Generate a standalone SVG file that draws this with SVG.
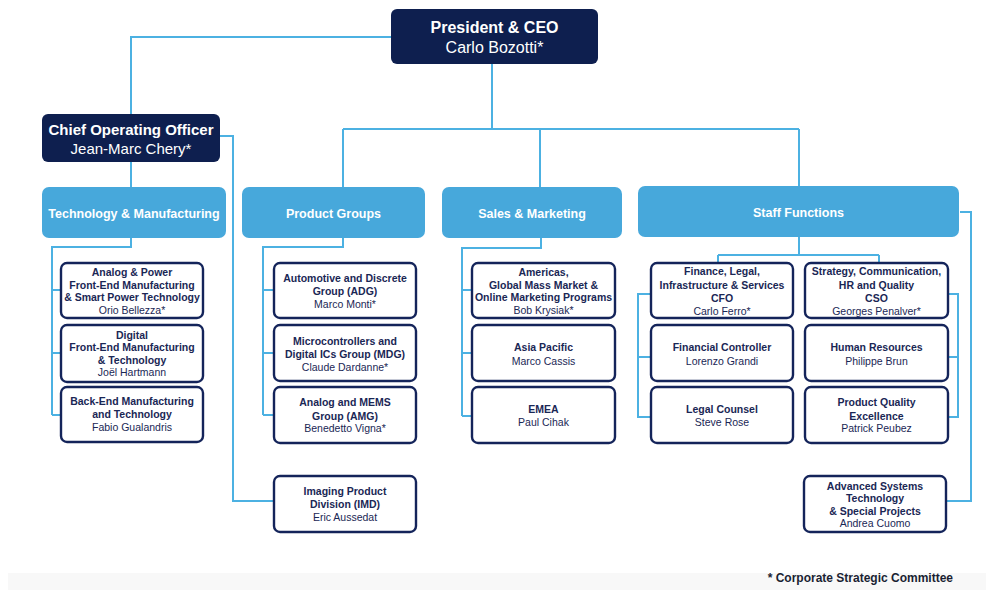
<svg xmlns="http://www.w3.org/2000/svg" width="986" height="590" viewBox="0 0 986 590">
<style>
.exec{fill:#0e1f4f;}
.cat{fill:#47a8db;}
.sub{fill:#fff;stroke:#14245a;stroke-width:2.4;}
.ln{fill:none;stroke:#4cb1e2;stroke-width:2;}
text{font-family:"Liberation Sans",Arial,sans-serif;text-anchor:middle;}
.et{fill:#fff;font-weight:bold;}
.en{fill:#fff;}
.ct{fill:#fff;font-weight:bold;font-size:12.5px;}
.st{fill:#1a2755;font-weight:bold;font-size:10.5px;}
.sn{fill:#1a2755;font-size:10.5px;}
</style>
<rect x="0" y="0" width="986" height="590" fill="#fff"/>
<rect x="8" y="573" width="978" height="17" fill="#f8f8f8"/>
<g id="connectors">
<path class="ln" d="M391 37 H131 V114"/>
<path class="ln" d="M131 162 V187"/>
<path class="ln" d="M220 136 H233 V501 H274"/>
<path class="ln" d="M492 64 V129 M343 129 H799 M343 129 V187 M540 129 V187 M799 129 V186"/>
<path class="ln" d="M131 238 V247 H52 V415 M52 290 H61 M52 353 H61 M52 415 H61"/>
<path class="ln" d="M343 238 V247 H263 V415 M263 290 H274 M263 353 H274 M263 415 H274"/>
<path class="ln" d="M541 238 V248 H462 V416 M462 290 H472 M462 353 H472 M462 416 H472"/>
<path class="ln" d="M799 237 V255 M718 255 H879 M718 255 V263 M879 255 V263"/>
<path class="ln" d="M651 294 H638 V417 H651 M638 357 H651"/>
<path class="ln" d="M948 294 H958 V417 H948 M958 357 H948"/>
<path class="ln" d="M960 212 H971 V501 H947"/>
</g>
<g id="ceo">
<rect class="exec" x="391" y="9" width="207" height="55" rx="6"/>
<text class="et" x="494.5" y="33" font-size="16">President &amp; CEO</text>
<text class="en" x="494.5" y="53" font-size="16">Carlo Bozotti*</text>
</g>
<g id="coo">
<rect class="exec" x="42" y="114" width="178" height="48" rx="6"/>
<text class="et" x="131" y="135" font-size="15">Chief Operating Officer</text>
<text class="en" x="131" y="154" font-size="15">Jean-Marc Chery*</text>
</g>
<g id="tech">
<rect class="cat" x="42" y="187" width="184" height="51" rx="7"/>
<text class="ct" x="134" y="218">Technology &amp; Manufacturing</text>
</g>
<g id="product">
<rect class="cat" x="242" y="187" width="183" height="51" rx="7"/>
<text class="ct" x="333.5" y="218">Product Groups</text>
</g>
<g id="sales">
<rect class="cat" x="442" y="187" width="180" height="51" rx="7"/>
<text class="ct" x="532" y="218">Sales &amp; Marketing</text>
</g>
<g id="staff">
<rect class="cat" x="638" y="186" width="321" height="51" rx="7"/>
<text class="ct" x="798.5" y="217">Staff Functions</text>
</g>
<g id="analog-power">
<rect class="sub" x="61" y="263" width="142" height="55" rx="6"/>
<text class="st" x="132" y="276">Analog &amp; Power</text>
<text class="st" x="132" y="288.5">Front-End Manufacturing</text>
<text class="st" x="132" y="301">&amp; Smart Power Technology</text>
<text class="sn" x="132" y="313.5">Orio Bellezza*</text>
</g>
<g id="digital">
<rect class="sub" x="61" y="325" width="142" height="57" rx="6"/>
<text class="st" x="132" y="338.5">Digital</text>
<text class="st" x="132" y="351">Front-End Manufacturing</text>
<text class="st" x="132" y="363.5">&amp; Technology</text>
<text class="sn" x="132" y="376">Joël Hartmann</text>
</g>
<g id="backend">
<rect class="sub" x="61" y="387" width="142" height="55" rx="6"/>
<text class="st" x="132" y="405">Back-End Manufacturing</text>
<text class="st" x="132" y="418">and Technology</text>
<text class="sn" x="132" y="431">Fabio Gualandris</text>
</g>
<g id="adg">
<rect class="sub" x="274" y="263" width="142" height="55" rx="6"/>
<text class="st" x="345" y="281.5">Automotive and Discrete</text>
<text class="st" x="345" y="295">Group (ADG)</text>
<text class="sn" x="345" y="307.5">Marco Monti*</text>
</g>
<g id="mdg">
<rect class="sub" x="274" y="325" width="142" height="56" rx="6"/>
<text class="st" x="345" y="344.5">Microcontrollers and</text>
<text class="st" x="345" y="358">Digital ICs Group (MDG)</text>
<text class="sn" x="345" y="370.5">Claude Dardanne*</text>
</g>
<g id="amg">
<rect class="sub" x="274" y="387" width="142" height="56" rx="6"/>
<text class="st" x="345" y="406">Analog and MEMS</text>
<text class="st" x="345" y="419.5">Group (AMG)</text>
<text class="sn" x="345" y="432">Benedetto Vigna*</text>
</g>
<g id="imd">
<rect class="sub" x="274" y="476" width="142" height="56" rx="6"/>
<text class="st" x="345" y="495">Imaging Product</text>
<text class="st" x="345" y="508">Division (IMD)</text>
<text class="sn" x="345" y="521">Eric Aussedat</text>
</g>
<g id="americas">
<rect class="sub" x="472" y="263" width="143" height="55" rx="6"/>
<text class="st" x="543.5" y="276">Americas,</text>
<text class="st" x="543.5" y="288.5">Global Mass Market &amp;</text>
<text class="st" x="543.5" y="301">Online Marketing Programs</text>
<text class="sn" x="543.5" y="313.5">Bob Krysiak*</text>
</g>
<g id="asia">
<rect class="sub" x="472" y="325" width="143" height="56" rx="6"/>
<text class="st" x="543.5" y="351">Asia Pacific</text>
<text class="sn" x="543.5" y="365">Marco Cassis</text>
</g>
<g id="emea">
<rect class="sub" x="472" y="387" width="143" height="56" rx="6"/>
<text class="st" x="543.5" y="413">EMEA</text>
<text class="sn" x="543.5" y="426">Paul Cihak</text>
</g>
<g id="cfo">
<rect class="sub" x="651" y="263" width="142" height="55" rx="6"/>
<text class="st" x="722" y="275">Finance, Legal,</text>
<text class="st" x="722" y="288.5">Infrastructure &amp; Services</text>
<text class="st" x="722" y="301.5">CFO</text>
<text class="sn" x="722" y="314.5">Carlo Ferro*</text>
</g>
<g id="controller">
<rect class="sub" x="651" y="325" width="142" height="56" rx="6"/>
<text class="st" x="722" y="351">Financial Controller</text>
<text class="sn" x="722" y="365">Lorenzo Grandi</text>
</g>
<g id="legal">
<rect class="sub" x="651" y="387" width="142" height="56" rx="6"/>
<text class="st" x="722" y="413">Legal Counsel</text>
<text class="sn" x="722" y="426">Steve Rose</text>
</g>
<g id="cso">
<rect class="sub" x="805" y="263" width="143" height="55" rx="6"/>
<text class="st" x="876.5" y="275">Strategy, Communication,</text>
<text class="st" x="876.5" y="288.5">HR and Quality</text>
<text class="st" x="876.5" y="301.5">CSO</text>
<text class="sn" x="876.5" y="314.5">Georges Penalver*</text>
</g>
<g id="hr">
<rect class="sub" x="805" y="325" width="143" height="56" rx="6"/>
<text class="st" x="876.5" y="351">Human Resources</text>
<text class="sn" x="876.5" y="365">Philippe Brun</text>
</g>
<g id="quality">
<rect class="sub" x="805" y="387" width="143" height="56" rx="6"/>
<text class="st" x="876.5" y="406">Product Quality</text>
<text class="st" x="876.5" y="419.5">Excellence</text>
<text class="sn" x="876.5" y="432">Patrick Peubez</text>
</g>
<g id="advanced">
<rect class="sub" x="804" y="476" width="142" height="56" rx="6"/>
<text class="st" x="875" y="489.5">Advanced Systems</text>
<text class="st" x="875" y="502">Technology</text>
<text class="st" x="875" y="514.5">&amp; Special Projects</text>
<text class="sn" x="875" y="527">Andrea Cuomo</text>
</g>
<text x="953" y="582" font-size="12" font-weight="bold" fill="#1a1f33" style="text-anchor:end">* Corporate Strategic Committee</text>
</svg>
